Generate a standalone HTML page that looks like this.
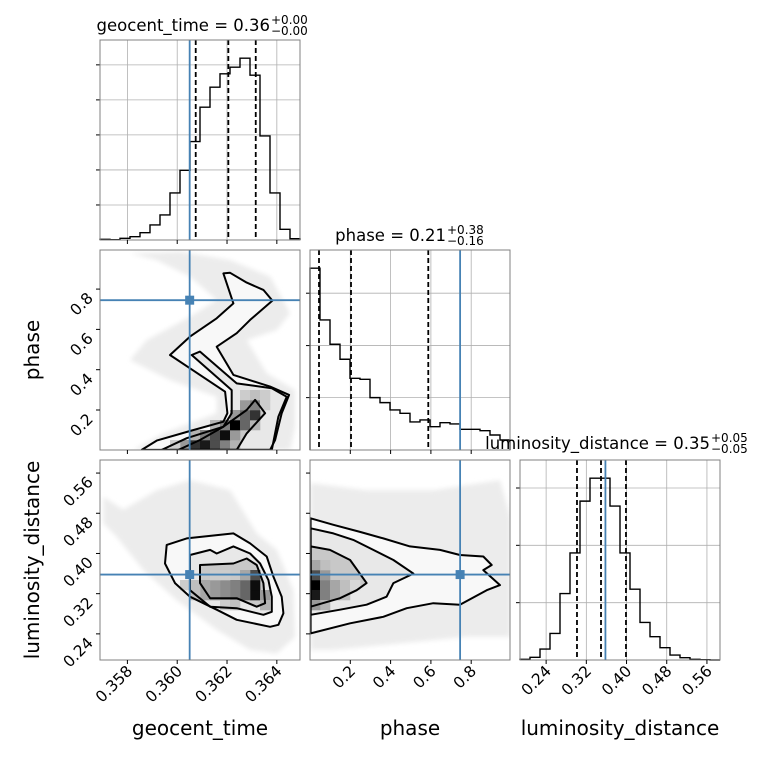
<!DOCTYPE html>
<html><head><meta charset="utf-8"><style>
body{margin:0;background:#fff}
svg text{font-family:"DejaVu Sans","Liberation Sans",sans-serif;fill:#000}
</style></head><body>
<svg id="chart" width="760" height="760" viewBox="0 0 760 760" xmlns="http://www.w3.org/2000/svg">
<rect width="760" height="760" fill="#fff"/>
<defs><filter id="blur" x="-10%" y="-10%" width="120%" height="120%"><feGaussianBlur stdDeviation="2.5"/></filter></defs>
</svg>
<script>
// ---------- data ----------
const geoRange=[0.3569,0.36493];
const phaseRange=[0.0,0.9926];
const phaseYRange=[0.0015,0.994];
const lumRange=[0.188,0.586];
const geoTicks=[0.358,0.360,0.362,0.364];
const geoTickLabels=["0.358","0.360","0.362","0.364"];
const phaseTicks=[0.2,0.4,0.6,0.8];
const phaseTickLabels=["0.2","0.4","0.6","0.8"];
const lumTicks=[0.24,0.32,0.40,0.48,0.56];
const lumTickLabels=["0.24","0.32","0.40","0.48","0.56"];
const geoCounts=[2,1,5,10,22,45,75,141,209,295,398,458,498,518,545,494,312,141,32,4];
const phaseCounts=[545,390,317,272,215,212,157,142,120,110,84,90,70,82,78,62,62,58,45,30];
const lumCounts=[2,8,33,80,200,322,478,547,547,463,322,213,113,70,37,15,7,2,1,0];
const geoHistTicks=[105,210,315,420,525];
const phaseHistTicks=[157,313,470];
const lumHistTicks=[172.5,345,517.5];
const geoQuant=[0.360743,0.362053,0.363153];
const phaseQuant=[0.0447,0.2035,0.587];
const lumQuant=[0.3014,0.3492,0.3989];
const truthGeo=0.3605, truthPhase=0.745, truthLum=0.358;
// 2D panel A: geocent_time vs phase
const aCloud=[[0.358105,0.978],[0.360113,0.986],[0.362122,0.944],[0.363729,0.862],[0.364532,0.680],[0.363997,0.597],[0.362792,0.547],[0.363595,0.382],[0.364733,0.299],[0.364733,0.117],[0.364532,0.002],[0.358239,0.002],[0.359444,0.084],[0.361587,0.184],[0.361587,0.266],[0.359712,0.349],[0.358105,0.448],[0.358775,0.547],[0.360515,0.663],[0.361587,0.746],[0.360515,0.862],[0.359176,0.944]];
const aC1=[[0.358574,0.002],[0.359176,0.048],[0.360515,0.096],[0.361854,0.142],[0.362015,0.184],[0.361921,0.291],[0.360515,0.407],[0.359712,0.473],[0.360515,0.564],[0.361587,0.655],[0.362256,0.729],[0.361854,0.878],[0.362122,0.881],[0.362792,0.832],[0.363461,0.796],[0.363823,0.743],[0.362926,0.647],[0.362390,0.581],[0.361587,0.514],[0.362256,0.374],[0.363729,0.316],[0.364492,0.275],[0.364197,0.184],[0.363930,0.051],[0.363729,0.002]];
const aC2=[[0.359377,0.002],[0.360381,0.060],[0.361854,0.117],[0.362189,0.184],[0.362189,0.299],[0.360582,0.473],[0.360917,0.490],[0.362390,0.332],[0.363796,0.308],[0.364398,0.266],[0.364063,0.167],[0.363796,0.002]];
const aC3=[[0.360046,0.002],[0.360917,0.051],[0.361854,0.117],[0.362792,0.200],[0.363126,0.250],[0.363528,0.184],[0.362792,0.084],[0.362390,0.002]];
const aCells=[[9,0,0.8],[10,0,0.9],[11,0,0.7],[12,0,0.5],[13,0,0.3],[8,0,0.4],[7,0,0.2],[9,1,0.3],[10,1,0.5],[11,1,0.7],[12,1,0.95],[13,1,0.4],[11,2,0.3],[12,2,0.5],[13,2,1.0],[14,2,0.6],[15,2,0.3],[13,3,0.4],[14,3,0.6],[15,3,0.8],[14,4,0.4],[15,4,0.5],[16,4,0.2],[14,5,0.2],[15,5,0.25],[16,5,0.2]];
// panel B: geocent_time vs luminosity_distance
const bCloud=[[0.357034,0.513],[0.357837,0.487],[0.359176,0.526],[0.360515,0.546],[0.362122,0.526],[0.363193,0.440],[0.363997,0.407],[0.364666,0.327],[0.364733,0.234],[0.363997,0.201],[0.362926,0.208],[0.361587,0.248],[0.359980,0.307],[0.358641,0.367],[0.357570,0.433],[0.357034,0.460]];
const bC1=[[0.359578,0.417],[0.360381,0.430],[0.362256,0.440],[0.362926,0.420],[0.363595,0.394],[0.363863,0.354],[0.364197,0.314],[0.364264,0.281],[0.364063,0.258],[0.363729,0.254],[0.362390,0.268],[0.361587,0.288],[0.360515,0.314],[0.359913,0.341],[0.359511,0.380]];
const bC2=[[0.360515,0.397],[0.361319,0.407],[0.361587,0.400],[0.362256,0.414],[0.362926,0.400],[0.363327,0.380],[0.363662,0.347],[0.363796,0.314],[0.363796,0.284],[0.363461,0.278],[0.362390,0.291],[0.361319,0.294],[0.360515,0.327]];
const bC3=[[0.360917,0.377],[0.362256,0.380],[0.362792,0.390],[0.363193,0.377],[0.363461,0.341],[0.363528,0.301],[0.363193,0.294],[0.362390,0.311],[0.361319,0.311],[0.360917,0.341]];
const bCells=[[15,6,0.95],[15,7,0.95],[15,8,0.7],[14,7,0.6],[14,6,0.6],[13,6,0.5],[13,7,0.5],[12,6,0.45],[12,7,0.45],[11,7,0.4],[11,6,0.4],[10,7,0.35],[10,6,0.35],[9,6,0.25],[9,7,0.25],[16,6,0.4],[16,5,0.3],[14,8,0.35],[12,8,0.2],[12,5,0.2],[13,5,0.25],[11,8,0.2],[8,7,0.2]];
// panel C: phase vs luminosity_distance
const cCloud=[[0.003,0.540],[0.281,0.526],[0.612,0.526],[0.943,0.546],[0.993,0.473],[0.993,0.234],[0.777,0.234],[0.447,0.221],[0.116,0.208],[0.003,0.208]];
const cC1=[[0.003,0.470],[0.116,0.457],[0.248,0.443],[0.364,0.430],[0.496,0.414],[0.645,0.407],[0.744,0.397],[0.860,0.394],[0.902,0.377],[0.860,0.367],[0.943,0.337],[0.877,0.327],[0.744,0.298],[0.612,0.301],[0.480,0.291],[0.364,0.274],[0.199,0.261],[0.003,0.241]];
const cC2=[[0.003,0.450],[0.116,0.440],[0.215,0.427],[0.314,0.407],[0.414,0.387],[0.513,0.360],[0.414,0.341],[0.380,0.314],[0.281,0.298],[0.149,0.288],[0.003,0.278]];
const cC3=[[0.003,0.414],[0.099,0.407],[0.199,0.387],[0.281,0.341],[0.232,0.327],[0.149,0.311],[0.003,0.294]];
const cCells=[[0,7,1.0],[0,6,0.9],[0,8,0.7],[1,6,0.5],[1,7,0.5],[1,8,0.4],[1,5,0.3],[1,9,0.25],[2,6,0.35],[2,7,0.35],[3,6,0.25],[3,7,0.25],[0,5,0.4],[0,9,0.35],[4,7,0.15]];

// ---------- helpers ----------
const svg=document.getElementById('chart');
const NS='http://www.w3.org/2000/svg';
function mk(tag,attrs,parent){const e=document.createElementNS(NS,tag);for(const k in attrs)e.setAttribute(k,attrs[k]);(parent||svg).appendChild(e);return e;}
const cols=[100,310,520], rows=[40,250,460], S=200;
function lin(d,r){return v=>r[0]+(v-d[0])/(d[1]-d[0])*(r[1]-r[0]);}
const xs=[lin(geoRange,[100,300]),lin(phaseRange,[310,510]),lin(lumRange,[520,720])];
const ysRow=[null,lin(phaseYRange,[450,250]),lin(lumRange,[660,460])];
const ranges=[geoRange,phaseRange,lumRange];
const xTickSets=[[geoTicks,geoTickLabels],[phaseTicks,phaseTickLabels],[lumTicks,lumTickLabels]];
const GRID='#b0b0b0', FRAME='#808080', BLUE='#4682b4';
const TICKFS=15.5;

function frame(c,r,name){
  const e=mk('rect',{x:cols[c],y:rows[r],width:S,height:S,fill:'none',stroke:FRAME,'stroke-width':1});
  
  
}
function xticks(c,r,labels){
  const [t,l]=xTickSets[c];
  t.forEach((v,i)=>{const x=xs[c](v);
    const tk=mk('line',{x1:x,x2:x,y1:rows[r]+S,y2:rows[r]+S+4,stroke:'#000','stroke-width':1});
    
    
    if(labels){const tx=mk('text',{x:x+6,y:rows[r]+S+12,'font-size':TICKFS,'text-anchor':'end',transform:`rotate(-45 ${x+6} ${rows[r]+S+12})`});
      tx.textContent=l[i];
      
      }
  });
}
function yticks(r,c,labels){
  const t=r===1?phaseTicks:lumTicks, l=r===1?phaseTickLabels:lumTickLabels;
  t.forEach((v,i)=>{const y=ysRow[r](v);
    const tk=mk('line',{x1:cols[c]-4,x2:cols[c],y1:y,y2:y,stroke:'#000','stroke-width':1});
    
    
    if(labels){const tx=mk('text',{x:cols[c]-6,y:y+10,'font-size':TICKFS,'text-anchor':'end',transform:`rotate(-45 ${cols[c]-6} ${y+10})`});
      tx.textContent=l[i];
      
      }
  });
}
function hist(k,counts,hticks,quant,truth,name){
  const c=k,r=k,x0=cols[c],y0=rows[r];
  const g=mk('g',{});
  
  
  const maxC=Math.max(...counts)*1.1;
  const y=v=>y0+S-v/maxC*S;
  const xsc=xs[c];
  xTickSets[c][0].forEach(v=>mk('line',{x1:xsc(v),x2:xsc(v),y1:y0,y2:y0+S,stroke:GRID,'stroke-width':0.8},g));
  hticks.forEach(v=>{mk('line',{x1:x0,x2:x0+S,y1:y(v),y2:y(v),stroke:GRID,'stroke-width':0.8},g);
    const tk=mk('line',{x1:x0-4,x2:x0,y1:y(v),y2:y(v),stroke:'#000','stroke-width':1},g);
    
    });
  const rg=ranges[c], n=counts.length, w=(rg[1]-rg[0])/n;
  let d=`M${xsc(rg[0])},${y0+S}`;
  counts.forEach((v,i)=>{d+=` L${xsc(rg[0]+i*w)},${y(v)} L${xsc(rg[0]+(i+1)*w)},${y(v)}`;});
  d+=` L${xsc(rg[1])},${y0+S}`;
  const p=mk('path',{d:d,fill:'none',stroke:'#000','stroke-width':1.4},g);
  
  
  quant.forEach(q=>{const l=mk('line',{x1:xsc(q),x2:xsc(q),y1:y0,y2:y0+S,stroke:'#000','stroke-width':1.8,'stroke-dasharray':'5,3'},g);
    
    });
  const t=mk('line',{x1:xsc(truth),x2:xsc(truth),y1:y0,y2:y0+S,stroke:BLUE,'stroke-width':1.8},g);
  
  
  frame(c,r,name+'-hist');
}
function poly(pts,xsc,ysc,fill,stroke,parent,filter){
  const d=pts.map(p=>xsc(p[0]).toFixed(1)+','+ysc(p[1]).toFixed(1)).join(' ');
  const a={points:d,fill:fill,stroke:stroke,'stroke-width':stroke==='none'?0:2,'stroke-linejoin':'round'};
  if(filter)a.filter=filter;
  return mk('polygon',a,parent);
}
function panel2d(c,r,cloud,c1,c2,c3,cells,tx,ty,name){
  const xsc=xs[c], ysc=ysRow[r];
  const clipId='clip'+c+r;
  const cp=mk('clipPath',{id:clipId});
  mk('rect',{x:cols[c],y:rows[r],width:S,height:S},cp);
  const g=mk('g',{'clip-path':`url(#${clipId})`});
  
  
  const cl=poly(cloud,xsc,ysc,'#ececec','none',g,'url(#blur)');
  
  
  poly(c1,xsc,ysc,'#f8f8f8','none',g);
  poly(c2,xsc,ysc,'#e8e8e8','none',g);
  poly(c3,xsc,ysc,'#c8c8c8','none',g);
  const xr=ranges[c], yr=r===1?phaseYRange:lumRange;
  const cw=(xr[1]-xr[0])/20, ch=(yr[1]-yr[0])/20;
  cells.forEach(([i,j,lv])=>{const xa=xsc(xr[0]+i*cw), xb=xsc(xr[0]+(i+1)*cw), ya=ysc(yr[0]+(j+1)*ch), yb=ysc(yr[0]+j*ch);
    const gv=Math.round(255*(1-lv));
    const e=mk('rect',{x:xa,y:ya,width:xb-xa+0.3,height:yb-ya+0.3,fill:`rgb(${gv},${gv},${gv})`},g);
    
    });
  [c1,c2,c3].forEach((cc,k)=>{const e=poly(cc,xsc,ysc,'none','#000',g);
    
    });
  const X=xsc(tx), Y=ysc(ty);
  const v=mk('line',{x1:X,x2:X,y1:rows[r],y2:rows[r]+S,stroke:BLUE,'stroke-width':1.8},g);
  
  
  const h=mk('line',{x1:cols[c],x2:cols[c]+S,y1:Y,y2:Y,stroke:BLUE,'stroke-width':1.8},g);
  
  
  const m=mk('rect',{x:X-4.5,y:Y-4.5,width:9,height:9,fill:BLUE},g);
  
  
  frame(c,r,name);
}
function title(cx,cy,main,sup,sub,name){
  const g=mk('g',{});
  
  
  const t=mk('text',{x:cx,y:cy,'font-size':16.5,'text-anchor':'end'},g);t.textContent=main;
  const a=mk('text',{x:cx+1,y:cy-7,'font-size':12,},g);a.textContent=sup;
  const b=mk('text',{x:cx+1,y:cy+4,'font-size':12},g);b.textContent=sub;
}
function label(x,y,txt,rot,name){
  const a={x:x,y:y,'font-size':20,'text-anchor':'middle'};
  if(rot)a.transform=`rotate(-90 ${x} ${y})`;
  const t=mk('text',a);t.textContent=txt;
  
  
}

// ---------- draw ----------
hist(0,geoCounts,geoHistTicks,geoQuant,truthGeo,'geocent-time');
xticks(0,0,false);
panel2d(0,1,aCloud,aC1,aC2,aC3,aCells,truthGeo,truthPhase,'geocent-time-vs-phase');
xticks(0,1,false); yticks(1,0,true);
hist(1,phaseCounts,phaseHistTicks,phaseQuant,truthPhase,'phase');
xticks(1,1,false);
panel2d(0,2,bCloud,bC1,bC2,bC3,bCells,truthGeo,truthLum,'geocent-time-vs-luminosity');
xticks(0,2,true); yticks(2,0,true);
panel2d(1,2,cCloud,cC1,cC2,cC3,cCells,truthPhase,truthLum,'phase-vs-luminosity');
xticks(1,2,true); yticks(2,1,false);
hist(2,lumCounts,lumHistTicks,lumQuant,truthLum,'luminosity-distance');
xticks(2,2,true);
title(270,31,'geocent_time = 0.36','+0.00','\u22120.00','geocent-time-title');
title(446,241,'phase = 0.21','+0.38','\u22120.16','phase-title');
title(710,449,'luminosity_distance = 0.35','+0.05','\u22120.05','luminosity-distance-title');
label(200,735,'geocent_time',false,'x-axis-title-geocent-time');
label(410,735,'phase',false,'x-axis-title-phase');
label(620,735,'luminosity_distance',false,'x-axis-title-luminosity-distance');
label(39,350,'phase',true,'y-axis-title-phase');
label(39,560,'luminosity_distance',true,'y-axis-title-luminosity-distance');
</script>
</body></html>
